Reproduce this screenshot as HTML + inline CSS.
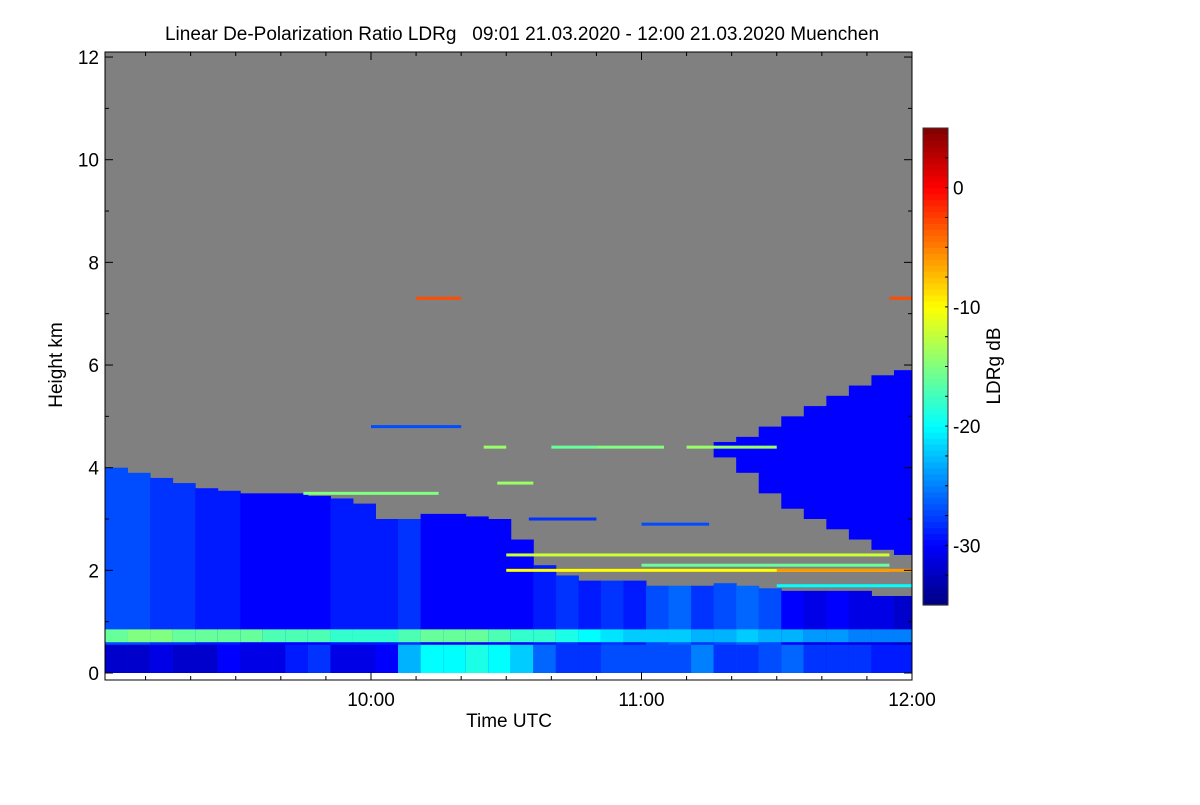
<!DOCTYPE html>
<html><head><meta charset="utf-8"><style>
body{margin:0;background:#fff;}
svg text{font-family:"Liberation Sans",sans-serif;fill:#000;}
</style></head><body>
<svg id="c" width="1200" height="800" xmlns="http://www.w3.org/2000/svg">
<text x="522" y="40" font-size="19" text-anchor="middle" style="white-space:pre">Linear De-Polarization Ratio LDRg   09:01 21.03.2020 - 12:00 21.03.2020 Muenchen</text>
<rect x="105" y="52" width="807" height="621" fill="#808080"/>
<g id="cells"></g>
<g id="axes"></g>
<text x="509" y="727" font-size="19" text-anchor="middle">Time UTC</text>
<text transform="translate(62,365) rotate(-90)" font-size="19" text-anchor="middle">Height km</text>
<g id="cbar"></g>
<text transform="translate(1000,366) rotate(-90)" font-size="19" text-anchor="middle">LDRg dB</text>
</svg>
<script>
// time in minutes since 09:00, 5-min columns
const colStart = 1;
const colStep = 5;
const lowTops = [4.0,3.9,3.8,3.7,3.6,3.55,3.5,3.5,3.5,3.45,3.4,3.3,3.0,3.0,3.1,3.1,3.05,3.0,2.6,2.1,1.9,1.8,1.8,1.8,1.7,1.7,1.7,1.75,1.7,1.65,1.6,1.6,1.6,1.6,1.5,1.5];
const lowVals = [-27,-27,-28,-28,-29,-29,-30,-30,-30,-30,-29,-29,-29,-28,-30,-30,-30,-30,-30,-29,-28,-29,-28,-29,-27,-26,-28,-27,-26,-27,-30,-31,-30,-31,-31,-32];
const bandVals = [-16,-15,-15,-16,-16,-16,-16,-17,-17,-17,-18,-18,-18,-17,-16,-16,-16,-17,-18,-18,-19,-20,-21,-22,-22,-22,-23,-23,-22,-23,-23,-24,-24,-25,-25,-25];
const bottomVals = [-32,-32,-31,-32,-32,-30,-31,-31,-29,-28,-31,-31,-30,-23,-20,-20,-19,-20,-22,-26,-28,-28,-27,-27,-27,-27,-25,-28,-28,-27,-26,-28,-28,-28,-29,-29];
const upperIdx = [27,28,29,30,31,32,33,34,35];
const upperBase = [4.2,3.9,3.5,3.2,3.0,2.8,2.6,2.4,2.3];
const upperTop = [4.5,4.6,4.8,5.0,5.2,5.4,5.6,5.8,5.9];
// speckle layers: [startMin, endMin, heightKm, dB]
const speckles = [[85,90,4.4,-14],[110,125,4.4,-15],[100,110,4.4,-16],[175,180,7.3,-3],[70,80,7.3,-3],[90,175,2.3,-12],[90,175,2.0,-10],[120,175,2.1,-16],[45,75,3.5,-15],[60,80,4.8,-27],[88,96,3.7,-14],[95,110,3.0,-28],[120,135,2.9,-27],[130,150,4.4,-14],[150,180,2.0,-6],[150,180,1.7,-20]];
const yTicks = [0,2,4,6,8,10,12];
const xTickLabels = ["10:00","11:00","12:00"];
const xTickMins = [60,120,180];
const cbTicks = [0,-10,-20,-30];

const X0=105, PXMIN=807/179, Y0=673, PXKM=51.33;
const xs = m => X0 + (m-1)*PXMIN;
const ys = h => Y0 - h*PXKM;
const CB_TOP=128, CB_BOT=605, CB_MAX=5, CB_MIN=-35;
const cy = v => CB_BOT - (v-CB_MIN)/(CB_MAX-CB_MIN)*(CB_BOT-CB_TOP);
function jet(v){let t=(v-CB_MIN)/(CB_MAX-CB_MIN);t=Math.max(0,Math.min(1,t));
 const c=x=>Math.round(255*Math.max(0,Math.min(1,x)));
 return `rgb(${c(1.5-Math.abs(4*t-3))},${c(1.5-Math.abs(4*t-2))},${c(1.5-Math.abs(4*t-1))})`;}
const NS="http://www.w3.org/2000/svg";
function rect(g,x,y,w,h,fill){const r=document.createElementNS(NS,'rect');
 r.setAttribute('x',x);r.setAttribute('y',y);r.setAttribute('width',w);r.setAttribute('height',h);r.setAttribute('fill',fill);g.appendChild(r);return r;}
const cells=document.getElementById('cells');
lowTops.forEach((top,i)=>{
 const m0=colStart+i*colStep, m1=Math.min(180,m0+colStep);
 const x=xs(m0), w=xs(m1)-x+0.5;
 let r=rect(cells,x,ys(top),w,ys(0)-ys(top),jet(lowVals[i]));
 
 
 r=rect(cells,x,ys(0.85),w,ys(0.6)-ys(0.85),jet(bandVals[i]));
 
 
 r=rect(cells,x,ys(0.55),w,ys(0)-ys(0.55),jet(bottomVals[i]));
 
 
});
upperIdx.forEach((ci,k)=>{
 const m0=colStart+ci*colStep, m1=Math.min(180,m0+colStep);
 const r=rect(cells,xs(m0),ys(upperTop[k]),xs(m1)-xs(m0)+0.5,ys(upperBase[k])-ys(upperTop[k]),jet(-30));
 
 
});
speckles.forEach(s=>{
 const r=rect(cells,xs(s[0]),ys(s[2])-1.5,xs(s[1])-xs(s[0]),3,jet(s[3]));
 
 
});
// axes
const ax=document.getElementById('axes');
function line(g,x1,y1,x2,y2,sw){const l=document.createElementNS(NS,'line');
 l.setAttribute('x1',x1);l.setAttribute('y1',y1);l.setAttribute('x2',x2);l.setAttribute('y2',y2);
 l.setAttribute('stroke','#000');l.setAttribute('stroke-width',sw||1);g.appendChild(l);}
function text(g,x,y,s,anchor){const t=document.createElementNS(NS,'text');
 t.setAttribute('x',x);t.setAttribute('y',y);t.setAttribute('font-size','19');t.setAttribute('text-anchor',anchor);t.textContent=s;g.appendChild(t);return t;}
const fr=document.createElementNS(NS,'rect');
fr.setAttribute('x',105);fr.setAttribute('y',52);fr.setAttribute('width',807);fr.setAttribute('height',628);
fr.setAttribute('fill','none');fr.setAttribute('stroke','#000');


ax.appendChild(fr);
for(let h=0;h<=12;h+=1){const y=ys(h);const L=h%2?4:8;line(ax,105,y,105+L,y);line(ax,912,y,912-L,y);}
yTicks.forEach(h=>{const t=text(ax,99,ys(h)+7,String(h),'end');
 
 });
for(let m=10;m<=180;m+=10){const x=xs(m);const L=m%60?4:8;line(ax,x,680,x,680-L);line(ax,x,52,x,52+L);}
xTickLabels.forEach((s,i)=>{const t=text(ax,xs(xTickMins[i]),706,s,'middle');
 
 });
// colorbar
const cb=document.getElementById('cbar');
for(let v=CB_MIN;v<CB_MAX;v+=0.5){rect(cb,923,cy(v+0.5),25,cy(v)-cy(v+0.5)+0.6,jet(v+0.25));}
const cf=rect(cb,923,CB_TOP,25,CB_BOT-CB_TOP,'none');cf.setAttribute('stroke','#333');
for(let v=-32.5;v<5;v+=2.5){line(cb,948,cy(v),945,cy(v));}
cbTicks.forEach(v=>{const t=text(cb,953,cy(v)+7,String(v),'start');
 
 });
</script>
</body></html>
